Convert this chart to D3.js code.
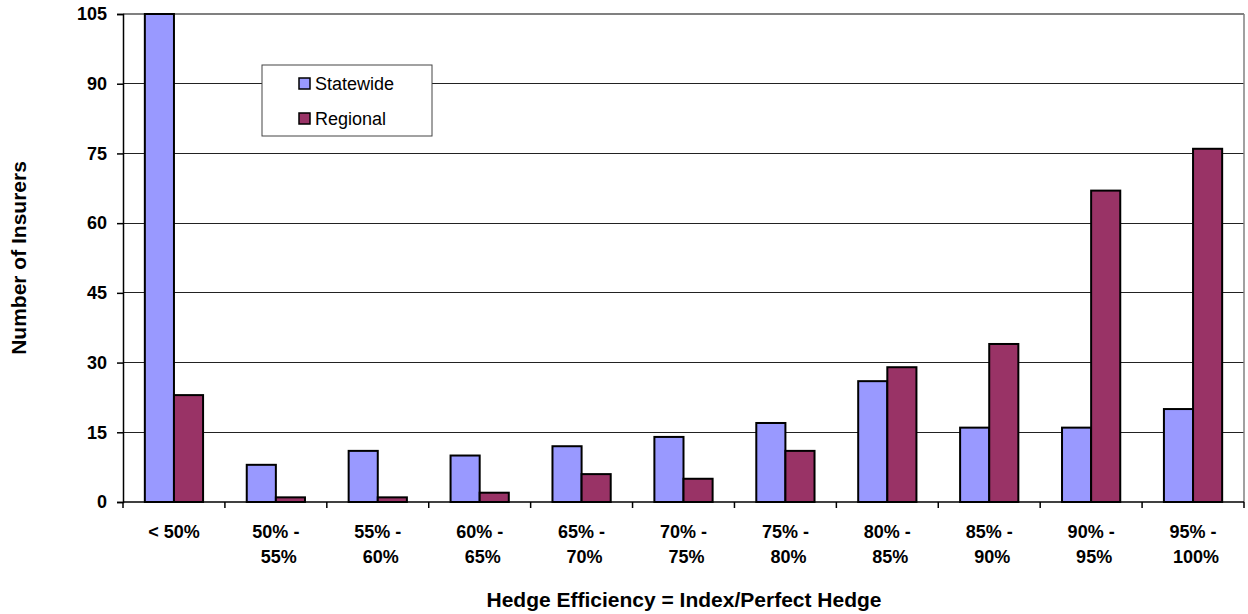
<!DOCTYPE html>
<html>
<head>
<meta charset="utf-8">
<script src="https://cdn.jsdelivr.net/npm/d3@7"></script>
<style>
  html, body { margin: 0; padding: 0; background: #fff; }
  svg { display: block; font-family: Arial, "Liberation Sans", sans-serif; }
</style>
</head>
<body>
<svg id="chart" width="1248" height="614"></svg>
<script>
// Hedge efficiency buckets
const categories = [
  ["< 50%"], ["50% -", "55%"], ["55% -", "60%"], ["60% -", "65%"], ["65% -", "70%"],
  ["70% -", "75%"], ["75% -", "80%"], ["80% -", "85%"], ["85% -", "90%"],
  ["90% -", "95%"], ["95% -", "100%"]
];
const statewide = [105, 8, 11, 10, 12, 14, 17, 26, 16, 16, 20];
const regional  = [23, 1, 1, 2, 6, 5, 11, 29, 34, 67, 76];
const seriesNames = ["Statewide", "Regional"];
const seriesColors = ["#9999FF", "#993366"];
const yTicks = [0, 15, 30, 45, 60, 75, 90, 105];

const svg = d3.select("#chart");
const plot = { left: 123, top: 14, right: 1244, bottom: 502 };

const keys = categories.map((d, i) => i);
const x = d3.scaleBand().domain(keys).range([plot.left, plot.right]).paddingInner(0).paddingOuter(0);
const y = d3.scaleLinear().domain([0, 105]).range([plot.bottom, plot.top]);

// Gridlines
svg.append("g")
  .selectAll("line")
  .data(yTicks.filter(t => t > 0))
  .join("line")
  .attr("x1", plot.left).attr("x2", plot.right)
  .attr("y1", d => y(d)).attr("y2", d => y(d))
  .attr("stroke", d => d === 105 ? "#808080" : "#222")
  .attr("stroke-width", d => d === 105 ? 1.5 : 1)
  .attr("shape-rendering", "crispEdges");

// Right border of plot area
svg.append("line")
  .attr("x1", plot.right).attr("x2", plot.right)
  .attr("y1", plot.top).attr("y2", plot.bottom)
  .attr("stroke", "#808080").attr("stroke-width", 1.5);

// Bars: Excel-style gap width of 150%
const bw = x.bandwidth();
const barW = bw / 3.5;
const offset = barW * 0.75;
const series = [statewide, regional];

series.forEach((vals, s) => {
  svg.append("g")
    .selectAll("rect")
    .data(vals)
    .join("rect")
    .attr("x", (d, i) => x(i) + offset + s * barW)
    .attr("y", d => y(d))
    .attr("width", barW)
    .attr("height", d => y(0) - y(d))
    .attr("fill", seriesColors[s])
    .attr("stroke", "#000")
    .attr("stroke-width", 2);
});

// Y axis
const yAxis = d3.axisLeft(y).tickValues(yTicks).tickSize(6).tickPadding(10);
const gy = svg.append("g").attr("transform", `translate(${plot.left},0)`).call(yAxis);
gy.select(".domain").attr("stroke", "#000").attr("stroke-width", 1.5);
gy.selectAll(".tick line").attr("stroke", "#000").attr("stroke-width", 1.5);
gy.selectAll(".tick text")
  .attr("font-size", 18).attr("font-weight", "bold").attr("fill", "#000")
  .attr("font-family", "Arial, 'Liberation Sans', sans-serif");

// X axis line with ticks at category boundaries
svg.append("line")
  .attr("x1", plot.left).attr("x2", plot.right)
  .attr("y1", plot.bottom).attr("y2", plot.bottom)
  .attr("stroke", "#000").attr("stroke-width", 1.5);
const bounds = keys.map(i => x(i)).concat([plot.right]);
svg.append("g")
  .selectAll("line")
  .data(bounds)
  .join("line")
  .attr("x1", d => d).attr("x2", d => d)
  .attr("y1", plot.bottom).attr("y2", plot.bottom + 6)
  .attr("stroke", "#000").attr("stroke-width", 1.5);

// Category labels
const labels = svg.append("g")
  .selectAll("text")
  .data(categories)
  .join("text")
  .attr("text-anchor", "middle")
  .attr("font-size", 18).attr("font-weight", "bold").attr("fill", "#000")
  .attr("transform", (d, i) => `translate(${x(i) + bw / 2},538)`);
labels.selectAll("tspan")
  .data(d => d)
  .join("tspan")
  .attr("x", 0)
  .attr("dx", (d, j) => j === 1 ? 3 : 0)
  .attr("y", (d, j) => j * 25)
  .text(d => d);

// Axis titles
svg.append("text")
  .attr("x", 684).attr("y", 607)
  .attr("text-anchor", "middle")
  .attr("font-size", 21).attr("font-weight", "bold")
  .text("Hedge Efficiency = Index/Perfect Hedge");

svg.append("text")
  .attr("transform", "translate(26,258) rotate(-90)")
  .attr("text-anchor", "middle")
  .attr("font-size", 21).attr("font-weight", "bold")
  .text("Number of Insurers");

// Legend
const legend = svg.append("g").attr("transform", "translate(262,65)");
legend.append("rect")
  .attr("width", 170).attr("height", 71)
  .attr("fill", "#fff").attr("stroke", "#444").attr("stroke-width", 1);
seriesNames.forEach((name, i) => {
  const row = legend.append("g").attr("transform", `translate(37,${25 + i * 35})`);
  row.append("rect")
    .attr("x", 0).attr("y", -12).attr("width", 11).attr("height", 11)
    .attr("fill", seriesColors[i]).attr("stroke", "#000").attr("stroke-width", 1.5);
  row.append("text")
    .attr("x", 16).attr("y", 0)
    .attr("font-size", 18).attr("fill", "#000")
    .text(name);
});
</script>
</body>
</html>
